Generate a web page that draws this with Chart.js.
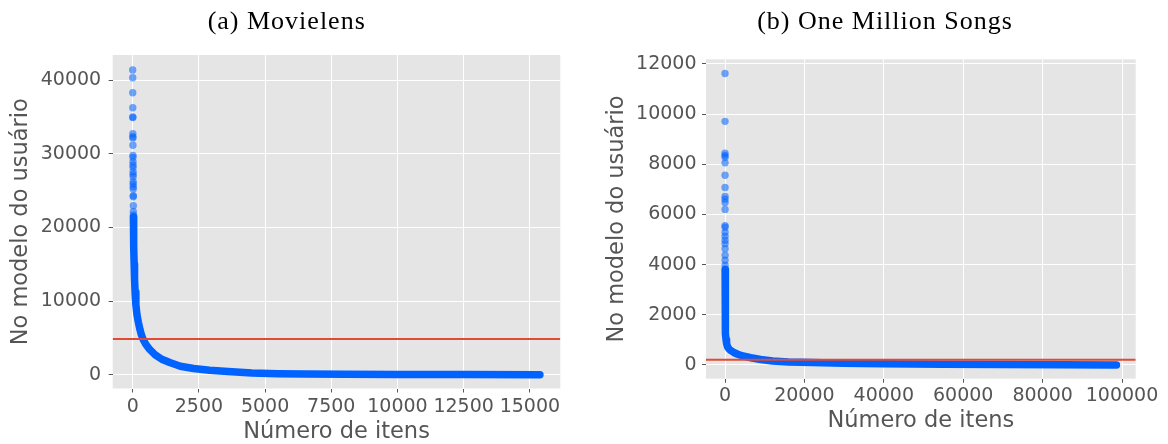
<!DOCTYPE html>
<html>
<head>
<meta charset="utf-8">
<script src="https://cdn.jsdelivr.net/npm/chart.js@4.4.1/dist/chart.umd.min.js"></script>
<style>
  html, body { margin: 0; padding: 0; background: #ffffff; overflow: hidden; width: 1168px; height: 444px; }
  canvas { position: absolute; top: 0; }
  #ml { left: 0; }
  #msd { left: 590px; }
</style>
</head>
<body>
<canvas id="ml" width="574" height="444"></canvas>
<canvas id="msd" width="578" height="444"></canvas>
<script>
// ---- Shared labels ----
const xAxisLabel = 'Número de itens';
const yAxisLabel = 'No modelo do usuário';

// ---- (a) Movielens ----
const mlTitle = '(a) Movielens';
// most popular items (rank = position in this list), drawn as individual translucent dots
const mlHeadCounts = [41360, 40320, 38280, 36240, 34980, 34900, 32710, 32300, 32150, 31140,
  29780, 29510, 28910, 28460, 28150, 27550, 27200, 26880, 26200, 25890,
  25520, 25210, 24300, 24160, 22940, 22130, 21680];
// remainder of the sorted distribution: item rank and count
const mlCurveRanks = [27, 32, 42, 55, 70, 90, 120, 160, 210, 270, 330, 400, 500, 650, 850,
  1100, 1400, 1800, 2300, 2900, 3600, 4500, 5500, 6500, 8000, 10000, 12500, 15380];
const mlCurveCounts = [21400, 19500, 17500, 15000, 13000, 11200, 9500, 8200, 7200, 6200, 5400, 4750, 4100, 3400, 2700,
  2100, 1650, 1150, 850, 620, 430, 230, 140, 85, 55, 35, 20, 6];
const mlThreshold = 4850;
const mlXTicks = [0, 2500, 5000, 7500, 10000, 12500, 15000];
const mlYTicks = [0, 10000, 20000, 30000, 40000];
const mlXRange = [-755, 16150];
const mlYRange = [-1870, 43400];

// ---- (b) One Million Songs ----
const msdTitle = '(b) One Million Songs';
const msdHeadCounts = [11615, 9708, 8436, 8345, 8277, 8054, 7562, 7073, 6715, 6608, 6477, 6199,
  5555, 5488, 5290, 5127, 4968, 4835, 4636, 4370, 4172, 3973];
const msdCurveRanks = [22, 35, 55, 80, 120, 180, 270, 400, 650, 1000, 1500, 2200, 3200, 4500, 6500,
  9000, 12000, 16000, 22000, 30000, 40000, 55000, 70000, 85000, 98600];
const msdCurveCounts = [3800, 3100, 2500, 2000, 1600, 1250, 1000, 860, 720, 640, 570, 500, 430, 360, 290,
  220, 160, 120, 95, 70, 50, 30, 18, 10, 3];
const msdThreshold = 210;
const msdXTicks = [0, 20000, 40000, 60000, 80000, 100000];
const msdYTicks = [0, 2000, 4000, 6000, 8000, 10000, 12000];
const msdXRange = [-4790, 103450];
const msdYRange = [-546, 12180];

// ---- Styling ----
const TICK_FONT = { family: 'DejaVu Sans', size: 19 };
const LABEL_FONT = { family: 'DejaVu Sans', size: 22.5, lineHeight: 1 };
const TEXT_GREY = '#555555';
const PANEL_BG = '#E5E5E5';
const DOT_BLUE = 'rgba(0, 98, 255, 0.55)';
const LINE_BLUE = '#0062FF';
const RED = '#E24A33';

// Grey panel behind the grid, and the serif caption above each panel
const panelPlugin = {
  id: 'panel',
  beforeDraw(chart, args, opts) {
    const { ctx, chartArea: a } = chart;
    ctx.save();
    ctx.fillStyle = PANEL_BG;
    ctx.fillRect(a.left, a.top, a.right - a.left, a.bottom - a.top);
    ctx.restore();
  },
  afterDraw(chart, args, opts) {
    const { ctx } = chart;
    ctx.save();
    ctx.font = '26px "Liberation Serif", "Times New Roman", serif';
    if ('letterSpacing' in ctx) ctx.letterSpacing = '1px';
    ctx.fillStyle = '#000000';
    ctx.textAlign = 'center';
    ctx.textBaseline = 'alphabetic';
    ctx.fillText(opts.text, opts.x, opts.y);
    ctx.restore();
  }
};

function makePanel(id, cfg) {
  const head = cfg.head.map((c, i) => ({ x: i, y: c }));
  const curve = cfg.ranks.map((r, i) => ({ x: r, y: cfg.counts[i] }));
  const redLine = [{ x: cfg.xRange[0], y: cfg.threshold }, { x: cfg.xRange[1], y: cfg.threshold }];

  const fixedTicks = (values) => (scale) => { scale.ticks = values.map(v => ({ value: v })); };

  return new Chart(document.getElementById(id), {
    type: 'scatter',
    data: {
      datasets: [
        { data: redLine, showLine: true, borderColor: RED, borderWidth: 2, pointRadius: 0, order: 0 },
        { data: curve, showLine: true, borderColor: LINE_BLUE, borderWidth: 7.5, pointRadius: 0,
          borderCapStyle: 'round', borderJoinStyle: 'round', tension: 0, order: 1 },
        { data: head, showLine: false, backgroundColor: DOT_BLUE, borderWidth: 0, pointRadius: 3.7, order: 2 }
      ]
    },
    options: {
      responsive: false,
      animation: false,
      events: [],
      devicePixelRatio: 1,
      layout: { padding: cfg.padding },
      plugins: {
        legend: { display: false },
        tooltip: { enabled: false },
        panel: { text: cfg.title, x: cfg.titleX, y: 29.3 }
      },
      scales: {
        x: {
          type: 'linear',
          min: cfg.xRange[0], max: cfg.xRange[1],
          afterBuildTicks: fixedTicks(cfg.xTicks),
          afterFit: (s) => { s.height = cfg.xAxisHeight; },
          grid: { color: '#FFFFFF', lineWidth: 1, drawTicks: true, tickLength: 4, tickColor: TEXT_GREY, tickWidth: 1 },
          border: { display: false },
          ticks: { font: TICK_FONT, color: TEXT_GREY, padding: cfg.xTickPad, maxRotation: 0, autoSkip: false,
                   callback: (v) => String(v) },
          title: { display: true, text: xAxisLabel, color: TEXT_GREY, font: LABEL_FONT,
                   padding: { top: 0, bottom: cfg.xTitlePad } }
        },
        y: {
          type: 'linear',
          min: cfg.yRange[0], max: cfg.yRange[1],
          afterBuildTicks: fixedTicks(cfg.yTicks),
          afterFit: (s) => { s.width = cfg.yAxisWidth; },
          grid: { color: '#FFFFFF', lineWidth: 1, drawTicks: true, tickLength: 4, tickColor: TEXT_GREY, tickWidth: 1 },
          border: { display: false },
          ticks: { font: TICK_FONT, color: TEXT_GREY, padding: cfg.yTickPad, autoSkip: false,
                   callback: (v) => String(v) },
          title: { display: true, text: yAxisLabel, color: TEXT_GREY, font: LABEL_FONT,
                   padding: { top: cfg.yTitlePad, bottom: 0 } }
        }
      }
    },
    plugins: [panelPlugin]
  });
}

makePanel('ml', {
  title: mlTitle, titleX: 286.7,
  head: mlHeadCounts, ranks: mlCurveRanks, counts: mlCurveCounts, threshold: mlThreshold,
  xTicks: mlXTicks, yTicks: mlYTicks, xRange: mlXRange, yRange: mlYRange,
  padding: { top: 55, right: 13.7, bottom: 0, left: 0 },
  yAxisWidth: 112.7, xAxisHeight: 55.5,
  xTickPad: 3.5, yTickPad: 7.5, xTitlePad: 0.75, yTitlePad: 9.45
});

makePanel('msd', {
  title: msdTitle, titleX: 295,
  head: msdHeadCounts, ranks: msdCurveRanks, counts: msdCurveCounts, threshold: msdThreshold,
  xTicks: msdXTicks, yTicks: msdYTicks, xRange: msdXRange, yRange: msdYRange,
  padding: { top: 59.3, right: 32.3, bottom: 0, left: 0 },
  yAxisWidth: 116, xAxisHeight: 65.3,
  xTickPad: 2, yTickPad: 5.5, xTitlePad: 12, yTitlePad: 15.45
});
</script>
</body>
</html>
